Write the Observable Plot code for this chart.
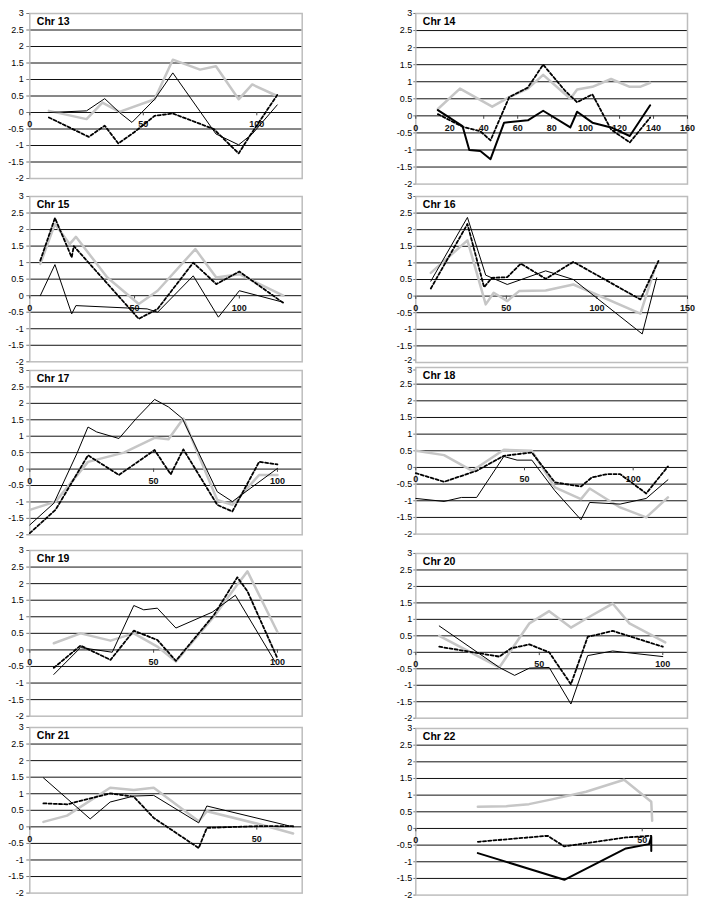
<!DOCTYPE html>
<html><head><meta charset="utf-8">
<script src="https://cdn.jsdelivr.net/npm/d3@7"></script>
<script src="https://cdn.jsdelivr.net/npm/@observablehq/plot@0.6"></script>
<style>
body{margin:0;background:#fff;}
#root{position:relative;width:704px;height:908px;overflow:hidden;font-family:"Liberation Sans",Arial,sans-serif;}
#root svg{position:absolute;overflow:visible;}
</style></head><body><div id="root"></div>
<script>
// ---- data ----
const yTickValues = [3, 2.5, 2, 1.5, 1, 0.5, 0, -0.5, -1, -1.5, -2];
const gridValues = [2.5, 2, 1.5, 1, 0.5, 0, -0.5, -1, -1.5];

const titles = ["Chr 13","Chr 14","Chr 15","Chr 16","Chr 17","Chr 18","Chr 19","Chr 20","Chr 21","Chr 22"];
const xMaxes = [120, 160, 130, 150, 110, 125, 110, 110, 60, 60];
const xTickLabels = [
  [0,50,100],
  [0,20,40,60,80,100,120,140,160],
  [0,50,100],
  [0,50,100,150],
  [0,50,100],
  [0,50,100],
  [0,50,100],
  [0,50,100],
  [0,50],
  [0,50]
];

const chr13Solid  = [[8.4,0],[25,0.05],[33,0.42],[39.5,0],[45,-0.3],[55,0.4],[63,1.2],[82,-0.65],[92,-0.98],[98,-0.65],[109,0.23]];
const chr13Dashed = [[8.4,-0.15],[26,-0.74],[33,-0.4],[39,-0.94],[46,-0.6],[55,-0.1],[63,-0.03],[81,-0.5],[92,-1.24],[97,-0.7],[109,0.53]];
const chr13Gray   = [[8.4,0.05],[25,-0.2],[32,0.3],[39.5,0.02],[55,0.4],[63,1.6],[75,1.3],[82,1.4],[92,0.4],[98,0.85],[109,0.5]];

const chr14Solid  = [[13,0.17],[27.5,-0.3],[31.5,-1.0],[38,-1.03],[44,-1.27],[52,-0.2],[66,-0.13],[75,0.15],[91,-0.34],[95,0.12],[104,-0.2],[115,-0.34],[126,-0.59],[138,0.31]];
const chr14Dashed = [[13,0.05],[27.5,-0.32],[38,-0.45],[44,-0.72],[55,0.55],[66,0.83],[75,1.5],[88,0.73],[95,0.4],[104,0.63],[115,-0.4],[126,-0.78],[138,-0.05]];
const chr14Gray   = [[13,0.2],[26,0.8],[45,0.27],[55,0.55],[66,0.8],[75,1.2],[91,0.5],[95,0.77],[104,0.85],[115,1.08],[126,0.85],[132,0.85],[138,0.97]];

const chr15Solid  = [[5,0],[12,0.94],[20,-0.55],[22,-0.3],[56,-0.4],[61,-0.5],[78,0.6],[90,-0.65],[100,0.15],[121,-0.2]];
const chr15Dashed = [[5,1.06],[12,2.35],[20,1.16],[21,1.5],[52,-0.7],[61,-0.4],[78,1.0],[89,0.35],[100,0.73],[121,-0.22]];
const chr15Gray   = [[5,0.96],[12,2.17],[19,1.56],[22,1.78],[37,0.55],[52,-0.25],[61,0.15],[79,1.41],[89,0.55],[100,0.65],[121,0.0]];

const chr16Solid  = [[8.3,0.45],[28.5,2.37],[38.6,0.63],[50.5,0.35],[71.7,0.76],[87,0.5],[125,-1.14],[133,0.55]];
const chr16Dashed = [[8.3,0.23],[28.5,2.17],[37.7,0.27],[42,0.55],[50.5,0.57],[58,0.98],[71.7,0.52],[87,1.03],[124,-0.1],[134,1.06]];
const chr16Gray   = [[8.3,0.7],[28.5,1.68],[38.6,-0.25],[43,0.1],[50.5,-0.15],[57,0.15],[71.7,0.17],[87,0.35],[124,-0.53],[133,1.0]];

const chr17Solid  = [[0,-1.7],[9.7,-1.04],[19,0.47],[23.5,1.28],[27,1.13],[36,0.93],[43,1.54],[50.4,2.12],[56,1.89],[61.6,1.54],[75.7,-0.69],[81.8,-0.99],[100,0.02]];
const chr17Dashed = [[0,-1.95],[10.4,-1.24],[23.5,0.42],[36,-0.18],[50.4,0.58],[56.9,-0.16],[62,0.6],[75.7,-1.09],[81.8,-1.29],[92.6,0.22],[100,0.14]];
const chr17Gray   = [[0,-1.24],[10.4,-0.99],[23.5,0.22],[38,0.5],[50.4,0.95],[56,0.91],[62,1.54],[75.7,-0.94],[81.8,-1.09],[92.6,-0.18],[100,-0.18]];

const chr18Solid  = [[0,-0.93],[13,-1.02],[21,-0.9],[28,-0.9],[40.5,0.33],[46.6,0.22],[53.4,0.22],[64,-0.7],[76,-1.57],[80,-1.05],[94,-1.1],[106,-0.93],[116,-0.37]];
const chr18Dashed = [[0,-0.17],[13,-0.43],[28,-0.1],[40.5,0.35],[53.4,0.45],[64,-0.45],[76,-0.57],[81,-0.3],[88,-0.2],[94,-0.2],[106,-0.78],[116,0.03]];
const chr18Gray   = [[0,0.5],[13,0.37],[26,-0.1],[40.5,0.53],[53.4,0.5],[64,-0.6],[76,-0.95],[80,-0.63],[94,-1.2],[106,-1.5],[116,-0.9]];

const chr19Solid  = [[9.7,-0.74],[20.5,0.07],[33.3,-0.07],[42,1.34],[46,1.21],[51.5,1.26],[59,0.66],[73.7,1.14],[83,1.65],[99,-0.35]];
const chr19Dashed = [[9.7,-0.54],[20.5,0.13],[32.6,-0.3],[42,0.58],[51.5,0.3],[59,-0.33],[74.4,1.06],[83.8,2.19],[87.9,1.77],[100,-0.25]];
const chr19Gray   = [[9.7,0.2],[20.5,0.5],[32.6,0.28],[42,0.5],[51.5,0.1],[59,-0.35],[74.4,1.01],[83.8,1.97],[87.9,2.37],[100,0.54]];

const chr20Solid  = [[9.5,0.8],[33.8,-0.46],[40,-0.7],[46,-0.48],[54,-0.46],[62.8,-1.57],[69.6,-0.1],[79.7,0.04],[100,-0.13]];
const chr20Dashed = [[9.5,0.17],[33.8,-0.13],[38.5,0.12],[46,0.24],[54,0],[62.8,-0.97],[69.6,0.47],[79.7,0.65],[100,0.17]];
const chr20Gray   = [[9.5,0.5],[33.8,-0.46],[46,0.88],[54,1.25],[62.8,0.75],[69.6,1.05],[79.7,1.48],[86.5,0.88],[101,0.3]];

const chr21Solid  = [[3,1.48],[13.3,0.24],[17.7,0.75],[22.9,0.93],[27.3,0.95],[37.2,0.12],[39,0.63],[58,0]];
const chr21Dashed = [[3,0.71],[8.2,0.68],[17.7,1.01],[22.9,0.91],[27.3,0.27],[37.2,-0.64],[39,-0.03],[50,0.02],[58,0.02]];
const chr21Gray   = [[3,0.15],[8.2,0.34],[17.7,1.18],[22.9,1.11],[27.3,1.18],[37.2,0.17],[39,0.47],[50,0.1],[58,-0.2]];

const chr22Solid  = [[13.7,-0.74],[32.8,-1.54],[46.4,-0.6],[51.5,-0.47],[52,-0.25],[52,-0.68]];
const chr22Dashed = [[13.7,-0.4],[29.1,-0.22],[32.8,-0.54],[46.4,-0.27],[52,-0.22]];
const chr22Gray   = [[13.7,0.65],[20,0.67],[25,0.73],[30.3,0.88],[37.6,1.1],[46,1.46],[52,0.8],[52.2,0.23]];

const solidSeries  = [chr13Solid, chr14Solid, chr15Solid, chr16Solid, chr17Solid, chr18Solid, chr19Solid, chr20Solid, chr21Solid, chr22Solid];
const dashedSeries = [chr13Dashed, chr14Dashed, chr15Dashed, chr16Dashed, chr17Dashed, chr18Dashed, chr19Dashed, chr20Dashed, chr21Dashed, chr22Dashed];
const graySeries   = [chr13Gray, chr14Gray, chr15Gray, chr16Gray, chr17Gray, chr18Gray, chr19Gray, chr20Gray, chr21Gray, chr22Gray];

// ---- layout (page pixel positions of the y=3 and y=-2 lines) ----
const layout = [
  {col:0, top:12.7,  bottom:177.7},
  {col:1, top:12.7,  bottom:183.3},
  {col:0, top:195.7, bottom:361},
  {col:1, top:195.7, bottom:361.7},
  {col:0, top:370,   bottom:534.3},
  {col:1, top:366.7, bottom:533.3},
  {col:0, top:550,   bottom:715.7},
  {col:1, top:553.3, bottom:718},
  {col:0, top:726.7, bottom:892.3},
  {col:1, top:727.7, bottom:894.3}
];
const solidWidths = [1, 2, 1, 1, 1, 1, 1, 1, 1, 2];
// small nudges of edge labels where adjacent panels nearly touch
const labelNudge = {3: {value: -2, dy: -2.5}, 5: {value: 3, dy: 2.5}};

const root = document.getElementById("root");
const pad = 8;

titles.forEach((title, i) => {
  const L = layout[i];
  const left = L.col === 0 ? 0 : 352;
  const mL = L.col === 0 ? 29.3 : 63.3;
  const mR = L.col === 0 ? 50.3 : 17;
  const H = (L.bottom - L.top) + 2 * pad;
  const fmt = d => String(d);
  const axisOpts = {anchor: "left", tickSize: L.col === 0 ? 3 : 2, tickPadding: L.col === 0 ? 3 : 1.5, tickFormat: fmt, fontSize: 9, stroke: "#777"};
  const nudge = labelNudge[i];
  const mainTicks = nudge ? yTickValues.filter(v => v !== nudge.value) : yTickValues;
  const axes = [Plot.axisY(mainTicks, axisOpts)];
  if (nudge) axes.push(Plot.axisY([nudge.value], {...axisOpts, dy: nudge.dy}));
  const svg = Plot.plot({
    width: 352,
    height: H,
    marginLeft: mL,
    marginRight: mR,
    marginTop: pad,
    marginBottom: pad,
    style: {fontFamily: "Liberation Sans, Arial, sans-serif", fontSize: "9px", color: "#000", background: "transparent", overflow: "visible"},
    x: {domain: [0, xMaxes[i]], axis: null},
    y: {domain: [-2, 3], axis: null},
    marks: [
      Plot.ruleY(gridValues, {stroke: "#111", strokeWidth: 1}),
      Plot.frame({stroke: "#bdbdbd", strokeWidth: 1.5}),
      ...axes,
      Plot.ruleX(xTickLabels[i], {x: d => d, y1: 0, y2: -0.1, stroke: "#444"}),
      Plot.text(xTickLabels[i], {x: d => d, y: 0, dy: 12, text: fmt, fontSize: 9, fontWeight: "bold", fill: "#111"}),
      Plot.line(graySeries[i], {x: d => d[0], y: d => d[1], stroke: "#c6c6c6", strokeWidth: 2.5}),
      Plot.line(dashedSeries[i], {x: d => d[0], y: d => d[1], stroke: "#000", strokeWidth: 1.8, strokeDasharray: "3,2.2"}),
      Plot.line(solidSeries[i], {x: d => d[0], y: d => d[1], stroke: "#000", strokeWidth: solidWidths[i]}),
      Plot.text([title], {frameAnchor: "top-left", dx: 7, dy: 4, lineAnchor: "top", text: d => d, fontSize: 10.5, fontWeight: "bold", fill: "#000"})
    ]
  });
  svg.style.left = left + "px";
  svg.style.top = (L.top - pad) + "px";
  root.appendChild(svg);
});
</script>
</body></html>
